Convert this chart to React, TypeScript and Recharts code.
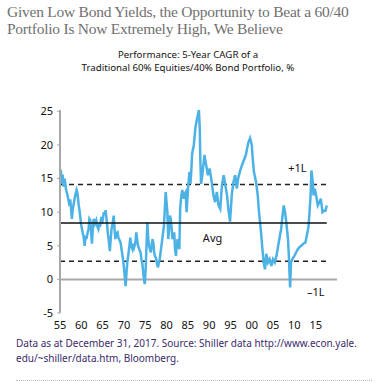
import {
  LineChart,
  Line,
  XAxis,
  YAxis,
  ReferenceLine,
  ReferenceDot,
} from 'recharts';

// 5-year CAGR (year, %)
const years = [
  1955.0, 1955.2, 1955.4, 1955.6, 1955.8, 1956.1, 1956.4, 1956.8, 1957.1, 1957.4,
  1957.6, 1957.8, 1958.0, 1958.3, 1958.6, 1958.9, 1959.1, 1959.4, 1959.6, 1959.8,
  1960.0, 1960.3, 1960.5, 1960.8, 1961.0, 1961.2, 1961.5, 1961.7, 1961.9, 1962.1,
  1962.3, 1962.5, 1962.7, 1962.9, 1963.2, 1963.5, 1963.7, 1964.0, 1964.2, 1964.4,
  1964.7, 1965.0, 1965.3, 1965.5, 1965.7, 1966.0, 1966.2, 1966.5, 1966.7, 1966.9,
  1967.1, 1967.4, 1967.6, 1967.8, 1968.0, 1968.2, 1968.5, 1968.7, 1969.0, 1969.2,
  1969.5, 1969.8, 1970.0, 1970.2, 1970.4, 1970.6, 1970.8, 1971.1, 1971.3, 1971.5,
  1971.7, 1972.0, 1972.2, 1972.4, 1972.7, 1972.9, 1973.1, 1973.3, 1973.6, 1973.9,
  1974.1, 1974.3, 1974.5, 1974.7, 1974.9, 1975.1, 1975.3, 1975.5, 1975.7, 1975.9,
  1976.1, 1976.3, 1976.5, 1976.7, 1976.9, 1977.1, 1977.3, 1977.6, 1977.8, 1978.0,
  1978.2, 1978.4, 1978.6, 1978.8, 1979.0, 1979.2, 1979.4, 1979.6, 1979.8, 1980.0,
  1980.2, 1980.4, 1980.6, 1980.8, 1981.0, 1981.2, 1981.4, 1981.6, 1981.8, 1982.0,
  1982.2, 1982.4, 1982.6, 1982.8, 1983.0, 1983.2, 1983.4, 1983.7, 1983.9, 1984.1,
  1984.3, 1984.5, 1984.7, 1984.9, 1985.1, 1985.4, 1985.6, 1985.8, 1986.0, 1986.4,
  1986.8, 1987.2, 1987.6, 1987.8, 1987.9, 1988.1, 1988.4, 1988.9, 1989.3, 1989.7,
  1990.1, 1990.6, 1991.0, 1991.4, 1991.8, 1992.2, 1992.6, 1993.0, 1993.4, 1993.8,
  1994.2, 1994.5, 1994.9, 1995.3, 1995.7, 1996.1, 1996.5, 1996.8, 1997.2, 1997.6,
  1998.0, 1998.6, 1999.2, 1999.6, 2000.0, 2000.2, 2000.5, 2001.0, 2001.4, 2001.7,
  2002.1, 2002.5, 2002.8, 2003.1, 2003.4, 2003.8, 2004.2, 2004.6, 2005.0, 2005.4,
  2005.8, 2006.2, 2006.6, 2006.9, 2007.3, 2007.5, 2007.8, 2008.1, 2008.5, 2008.7,
  2009.0, 2009.2, 2009.5, 2010.0, 2010.4, 2010.8, 2011.2, 2011.6, 2012.1, 2012.6,
  2012.9, 2013.3, 2013.5, 2013.8, 2014.0, 2014.3, 2014.5, 2014.8, 2015.1, 2015.5,
  2015.9, 2016.2, 2016.6, 2017.0, 2017.3, 2017.6,
];

const cagr = [
  15.0, 16.3, 14.2, 15.6, 13.8, 15.0, 13.4, 12.4, 11.4, 11.9,
  10.4, 9.0, 10.5, 11.5, 12.6, 13.3, 12.8, 11.0, 10.2, 9.0,
  8.0, 7.0, 6.5, 5.0, 6.5, 6.0, 7.0, 7.5, 9.0, 8.8,
  7.0, 5.3, 7.5, 9.0, 8.3, 8.8, 8.0, 7.5, 8.3, 7.8,
  9.3, 8.8, 10.0, 9.6, 10.3, 8.5, 7.0, 5.5, 4.2, 6.0,
  7.5, 8.5, 9.5, 7.5, 6.0, 6.8, 7.0, 6.2, 5.8, 5.5,
  4.2, 3.0, 1.8, 0.5, -1.0, 1.0, 2.5, 4.0, 5.0, 6.2,
  5.0, 4.5, 5.3, 4.8, 5.5, 7.0, 6.0, 5.0, 4.5, 4.0,
  3.0, 2.5, 1.2, 0.0, -0.7, 1.5, 5.0, 8.5, 6.0, 5.0,
  4.5, 4.0, 5.0, 6.0, 5.5, 4.0, 3.5, 3.0, 2.2, 1.8,
  2.5, 3.0, 4.0, 5.0, 6.0, 7.0, 8.0, 10.5, 13.0, 11.5,
  10.0, 6.0, 7.5, 9.5, 9.0, 7.5, 6.0, 6.5, 7.0, 4.5,
  3.5, 5.0, 6.0, 5.5, 4.5, 10.5, 12.0, 13.3, 12.5, 12.0,
  12.8, 13.0, 10.0, 12.0, 14.0, 16.0, 14.2, 16.0, 18.7, 20.0,
  22.7, 24.0, 25.2, 22.4, 18.5, 14.2, 15.5, 18.5, 17.0, 15.5,
  16.5, 14.5, 12.5, 11.5, 13.0, 11.0, 10.5, 14.0, 15.5, 14.0,
  12.5, 10.5, 8.6, 12.5, 14.5, 15.5, 13.5, 15.0, 16.0, 16.8,
  17.5, 18.5, 20.4, 21.0, 20.0, 18.2, 16.0, 14.5, 12.5, 10.0,
  7.5, 4.5, 2.5, 1.5, 3.8, 2.5, 3.0, 2.0, 3.0, 2.5,
  3.5, 5.0, 6.5, 7.5, 10.0, 11.0, 10.0, 8.5, 6.0, 3.5,
  -1.2, 2.5, 3.0, 3.5, 4.0, 4.5, 4.8, 5.0, 5.3, 5.5,
  6.5, 7.8, 9.5, 12.5, 16.2, 14.5, 12.5, 13.5, 12.5, 11.0,
  11.5, 12.0, 10.0, 10.2, 10.2, 11.0,
];

const xTicks = [1955, 1960, 1965, 1970, 1975, 1980, 1985, 1990, 1995, 2000, 2005, 2010, 2015, 2020];
const yTicks = [-5, 0, 5, 10, 15, 20, 25];

const AVG = 8.4;
const PLUS_1L = 14.1;
const MINUS_1L = 2.7;
const LINE_END = 2017.6;

const data = years.map((year, i) => ({ year, value: cagr[i] }));

const sans = '"Noto Sans", Lato, sans-serif';
const axisGrey = '#a8a8a8';

const fmtYear = (y: number) => (y === 2020 ? '' : String(y % 100).padStart(2, '0'));

export default function App() {
  return (
    <div style={{ position: 'absolute', left: 0, top: 0, width: 376, height: 387, background: '#fff' }}>
      <div
        style={{
          position: 'absolute',
          left: 7,
          top: 3,
          fontFamily: '"Liberation Serif", serif',
          fontSize: 15.5,
          letterSpacing: -0.25,
          lineHeight: '17px',
          color: '#707070',
          whiteSpace: 'nowrap',
        }}
      >
        Given Low Bond Yields, the Opportunity to Beat a 60/40
        <br />
        Portfolio Is Now Extremely High, We Believe
      </div>

      <div
        style={{
          position: 'absolute',
          left: 0,
          width: 376,
          top: 48,
          textAlign: 'center',
          fontFamily: sans,
          fontSize: 9.7,
          lineHeight: '13px',
          color: '#111',
        }}
      >
        Performance: 5-Year CAGR of a
        <br />
        Traditional 60% Equities/40% Bond Portfolio, %
      </div>

      <div style={{ position: 'absolute', left: 0, top: 0 }}>
        <LineChart
          width={376}
          height={340}
          data={data}
          margin={{ top: 110, right: 39, left: 30, bottom: 7 }}
        >
          <XAxis
            type="number"
            dataKey="year"
            domain={[1955, 2020]}
            ticks={xTicks}
            tickFormatter={fmtYear}
            axisLine={false}
            tickLine={false}
            height={20}
            tickMargin={2}
            tick={{ fill: '#111', fontSize: 11, fontFamily: sans }}
          />
          <YAxis
            domain={[-5, 25]}
            ticks={yTicks}
            width={30}
            axisLine={{ stroke: axisGrey, strokeWidth: 2 }}
            tickLine={{ stroke: axisGrey }}
            tickSize={3}
            tickMargin={4}
            tick={{ fill: '#111', fontSize: 11, fontFamily: sans }}
          />
          <ReferenceLine y={0} stroke={axisGrey} strokeWidth={2} />
          <ReferenceLine
            segment={[{ x: 1955, y: PLUS_1L }, { x: LINE_END, y: PLUS_1L }]}
            stroke="#222"
            strokeWidth={1.5}
            strokeDasharray="5 4"
          />
          <ReferenceLine
            segment={[{ x: 1955, y: MINUS_1L }, { x: LINE_END, y: MINUS_1L }]}
            stroke="#222"
            strokeWidth={1.5}
            strokeDasharray="5 4"
          />
          <Line
            type="linear"
            dataKey="value"
            stroke="#4cb1e5"
            strokeWidth={2.5}
            dot={false}
            isAnimationActive={false}
          />
          <ReferenceLine
            segment={[{ x: 1955, y: AVG }, { x: LINE_END, y: AVG }]}
            stroke="#111"
            strokeWidth={1.5}
          />
          <ReferenceDot
            x={2010.7}
            y={16.5}
            r={0}
            label={{ value: '+1L', fill: '#111', fontSize: 11, fontFamily: sans }}
          />
          <ReferenceDot
            x={1990.8}
            y={6.1}
            r={0}
            label={{ value: 'Avg', fill: '#111', fontSize: 11, fontFamily: sans }}
          />
          <ReferenceDot
            x={2015}
            y={-1.9}
            r={0}
            label={{ value: '\u20131L', fill: '#111', fontSize: 11, fontFamily: sans }}
          />
        </LineChart>
      </div>

      <div
        style={{
          position: 'absolute',
          left: 16,
          top: 336,
          fontFamily: sans,
          fontSize: 10,
          lineHeight: '15px',
          color: '#3b2a6b',
          whiteSpace: 'nowrap',
        }}
      >
        Data as at December 31, 2017. Source: Shiller data http://www.econ.yale.
        <br />
        edu/~shiller/data.htm, Bloomberg.
      </div>

      <div
        style={{
          position: 'absolute',
          left: 16,
          top: 380,
          width: 356,
          borderTop: '1px dotted #bbb',
        }}
      />
    </div>
  );
}
